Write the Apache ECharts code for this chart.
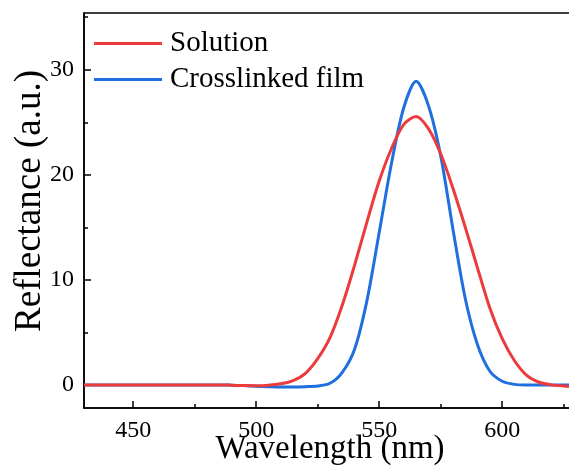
<!DOCTYPE html>
<html>
<head>
<meta charset="utf-8">
<style>html,body{margin:0;padding:0;background:#fff;}#c{width:569px;height:470px;}</style>
<script src="https://cdn.jsdelivr.net/npm/echarts@6/dist/echarts.min.js"></script>
</head>
<body>
<div id="c"></div>
<script>
const wavelength = [430,435,440,445,450,455,460,465,470,475,480,485,490,495,500,505,510,515,520,525,530,535,540,545,550,555,560,565,570,575,580,585,590,595,600,605,610,615,620,625,630];
const solution = [0,0,0,0,0,0,0,0,0,0,0,0,-0.03,-0.07,-0.08,-0.03,0.1,0.4,1.1,2.5,4.5,7.6,11.4,15.5,19.4,22.5,24.8,25.55,24.4,22.0,18.7,15.0,11.1,7.3,4.4,2.3,0.9,0.25,0.0,-0.1,-0.15];
const crosslinked = [0,0,0,0,0,0,0,0,0,0,0,0,-0.03,-0.07,-0.12,-0.17,-0.2,-0.2,-0.17,-0.1,0.15,1.2,3.4,8.0,14.5,21.1,26.4,28.9,26.6,21.8,14.8,8.2,3.8,1.3,0.35,0.05,0,0,0,0,0];
const xMajor = [450,500,550,600];
const xMinor = [475,525,575,625];
const yMajor = [0,10,20,30];
const yMinor = [5,15,25,35];
const seriesNames = ['Solution','Crosslinked film'];

const font = 'Liberation Serif, Times New Roman, serif';
const chart = echarts.init(document.getElementById('c'), null, {renderer:'canvas'});
const toPairs = (ys) => wavelength.map((x,i)=>[x, ys[i]]);
const lineCfg = {color:'#000', width:1.5};
chart.setOption({
  animation:false,
  backgroundColor:'#fff',
  grid:{left:84, top:13, width:492, height:395, show:true, borderColor:'#000', borderWidth:1.5,
        backgroundColor:'transparent', containLabel:false, outerBoundsMode:'none'},
  legend:{
    orient:'vertical', left:89, top:24, itemWidth:68, itemHeight:3, itemGap:7, icon:'rect',
    textStyle:{fontFamily:font, fontSize:29, color:'#000', padding:[0,0,0,3]},
    data:seriesNames
  },
  xAxis:[
    {type:'value', min:430, max:630, position:'bottom',
     axisLine:{show:true, onZero:false, lineStyle:lineCfg},
     axisTick:{show:true, inside:true, length:7, customValues:xMajor, lineStyle:lineCfg},
     axisLabel:{show:true, customValues:xMajor, fontFamily:font, fontSize:24, color:'#000', margin:11},
     splitLine:{show:false},
     name:'Wavelength (nm)', nameLocation:'middle', nameGap:25, nameMoveOverlap:false,
     nameTextStyle:{fontFamily:font, fontSize:33, color:'#000'}},
    {type:'value', min:430, max:630, position:'bottom',
     axisLine:{show:false, onZero:false},
     axisTick:{show:true, inside:true, length:4, customValues:xMinor, lineStyle:lineCfg},
     axisLabel:{show:false}, splitLine:{show:false}}
  ],
  yAxis:[
    {type:'value', min:-2.2, max:35.4, position:'left',
     axisLine:{show:true, onZero:false, lineStyle:lineCfg},
     axisTick:{show:true, inside:true, length:7, customValues:yMajor, lineStyle:lineCfg},
     axisLabel:{show:true, customValues:yMajor, fontFamily:font, fontSize:24, color:'#000', margin:10},
     splitLine:{show:false},
     name:'Reflectance (a.u.)', nameLocation:'middle', nameGap:35, nameMoveOverlap:false,
     nameTextStyle:{fontFamily:font, fontSize:37, color:'#000', padding:[0,0,0,19]}},
    {type:'value', min:-2.2, max:35.4, position:'left',
     axisLine:{show:false, onZero:false},
     axisTick:{show:true, inside:true, length:4, customValues:yMinor, lineStyle:lineCfg},
     axisLabel:{show:false}, splitLine:{show:false}}
  ],
  series:[
    {name:seriesNames[0], type:'line', data:toPairs(solution), symbol:'none', smooth:0.3,
     itemStyle:{color:'#eb3b3d'}, lineStyle:{color:'#eb3b3d', width:3}, z:3},
    {name:seriesNames[1], type:'line', data:toPairs(crosslinked), symbol:'none', smooth:0.3,
     itemStyle:{color:'#1f6fde'}, lineStyle:{color:'#1f6fde', width:3}, z:2}
  ]
});
</script>
</body>
</html>
